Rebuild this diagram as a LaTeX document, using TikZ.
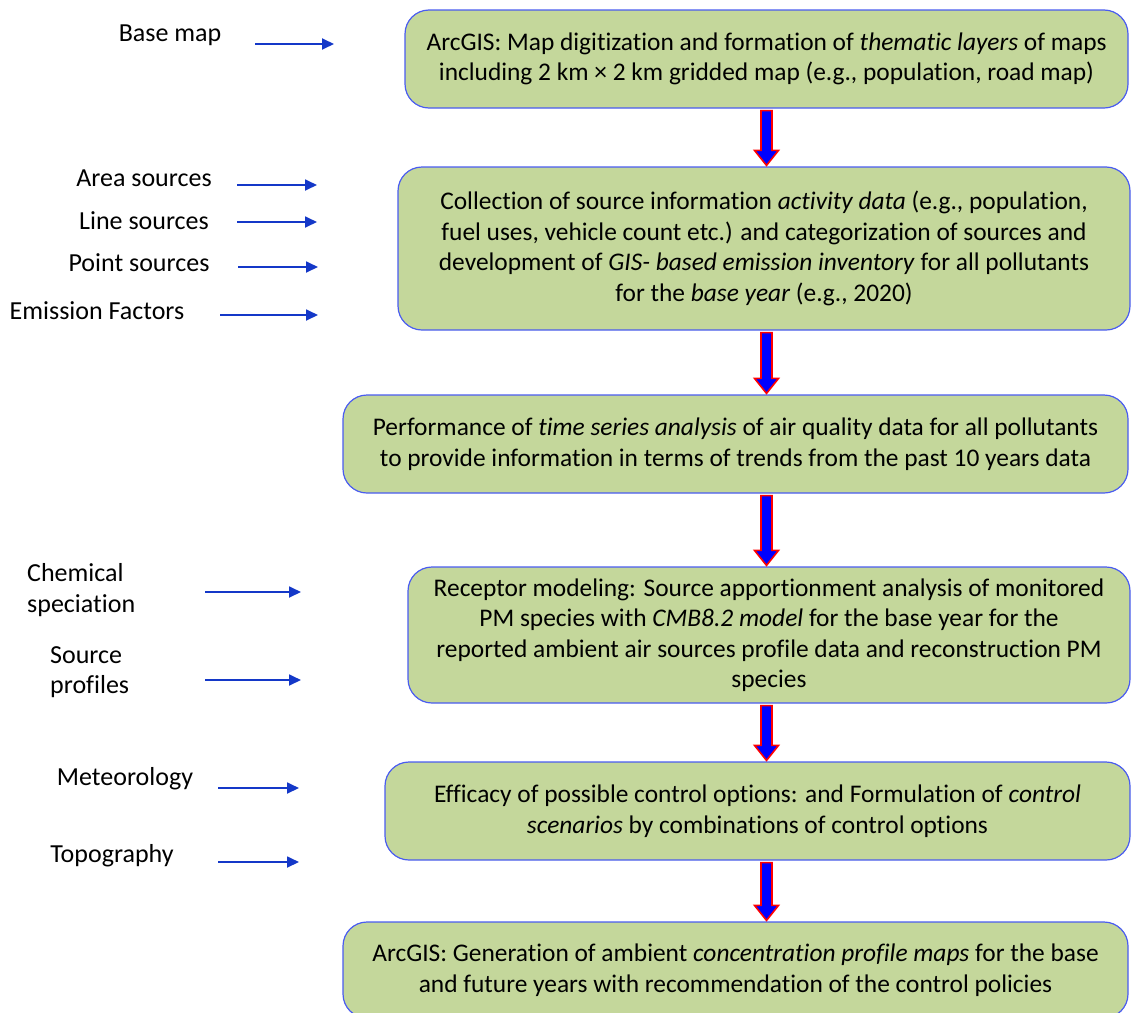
\documentclass[tikz,border=0pt]{standalone}
\usepackage{fontspec}
\setmainfont{Carlito}[Ligatures=NoCommon]
\usetikzlibrary{calc,arrows.meta}
\definecolor{boxgreen}{HTML}{C4D79B}
\definecolor{boxedge}{HTML}{4A5CF0}
\definecolor{feedblue}{HTML}{1438C8}
\tikzset{
	% ------- every something
	every node/.style={
		font=\fontsize{26}{30.5}\selectfont,
	},
	% ------- custom
	stage/.style={
		draw=boxedge, line width=1.2pt, fill=boxgreen,
		rounded corners=24pt, align=center, inner sep=0pt,
		font=\fontsize{25.4}{30.5}\selectfont,
	},
	feed/.style={
		feedblue, line width=1.8pt,
		-{Triangle[length=12pt,width=11pt]},
	},
	flow/.style={
		draw=red, fill=blue, line width=1.6pt, line join=miter,
	},
	source/.style={
		inner sep=0pt, align=center,
	},
}
% fat down arrow between two stages, on the axis of the first stage
\newcommand{\flowarrow}[2]{%
	\draw[flow] let \p1=(#1.south -| b1.south), \p2=(#2.north -| b1.south) in
		(\x1-5.5pt,\y1-2pt) -- (\x1+5.5pt,\y1-2pt) -- (\x1+5.5pt,\y2+16pt)
		-- (\x1+12pt,\y2+16pt) -- (\x1,\y2+1pt) -- (\x1-12pt,\y2+16pt)
		-- (\x1-5.5pt,\y2+16pt) -- cycle;
}

\begin{document}
\begin{tikzpicture}[x=1pt, y=-1pt]

% frame %{{{2

	\useasboundingbox (0,0) rectangle (1131,1012);

% stages %{{{2

	\node[stage, minimum width=723pt, minimum height=98pt] (b1) at (766.5,59)
	{ArcGIS: Map digitization and formation of \textit{thematic layers} of maps\\
	 including 2 km × 2 km gridded map (e.g., population, road map)};

	\node[stage, minimum width=732pt, minimum height=163pt] (b2) at (764,248.5)
	{Collection of source information \textit{activity data} (e.g., population,\\
	 fuel uses, vehicle count etc.) and categorization of sources and\\
	 development of \textit{GIS- based emission inventory} for all pollutants\\
	 for the \textit{base year} (e.g., 2020)};

	\node[stage, minimum width=785pt, minimum height=98pt] (b3) at (735.5,444)
	{Performance of \textit{time series analysis} of air quality data for all pollutants\\
	 to provide information in terms of trends from the past 10 years data};

	\node[stage, minimum width=722pt, minimum height=136pt] (b4) at (769,635)
	{Receptor modeling: Source apportionment analysis of monitored\\
	 PM species with \textit{CMB8.2 model} for the base year for the\\
	 reported ambient air sources profile data and reconstruction PM\\
	 species};

	\node[stage, minimum width=745pt, minimum height=98pt] (b5) at (757.5,811)
	{Efficacy of possible control options: and Formulation of \textit{control}\\
	 \textit{scenarios} by combinations of control options};

	\node[stage, minimum width=785pt, minimum height=96pt] (b6) at (735.5,970)
	{ArcGIS: Generation of ambient \textit{concentration profile maps} for the base\\
	 and future years with recommendation of the control policies};

% flow arrows %{{{2

	\flowarrow{b1}{b2}
	\flowarrow{b2}{b3}
	\flowarrow{b3}{b4}
	\flowarrow{b4}{b5}
	\flowarrow{b5}{b6}

% inputs %{{{2

	\node[source] (basemap) at (170,35) {Base map};
	\node[source] (area) at (144,178) {Area sources};
	\node[source] (line) at (144,221) {Line sources};
	\node[source] (point) at (139,263) {Point sources};
	\node[source] (factors) at (97,311) {Emission Factors};
	\node[source, align=left, anchor=west] (chem) at (27,590) {Chemical\\speciation};
	\node[source, align=left, anchor=west] (profiles) at (50,672) {Source\\profiles};
	\node[source] (meteo) at (125,779) {Meteorology};
	\node[source] (topo) at (112,856) {Topography};

% input arrows %{{{2

	\coordinate (basemap-s) at (255,44);   \coordinate (basemap-e) at (334,44);
	\coordinate (area-s) at (237,185);     \coordinate (area-e) at (317,185);
	\coordinate (line-s) at (237,222);     \coordinate (line-e) at (317,222);
	\coordinate (point-s) at (238,267);    \coordinate (point-e) at (318,267);
	\coordinate (factors-s) at (220,315);  \coordinate (factors-e) at (318,315);
	\coordinate (chem-s) at (205,592);     \coordinate (chem-e) at (301,592);
	\coordinate (profiles-s) at (205,680); \coordinate (profiles-e) at (301,680);
	\coordinate (meteo-s) at (218,788);    \coordinate (meteo-e) at (299,788);
	\coordinate (topo-s) at (218,862);     \coordinate (topo-e) at (299,862);

	\foreach \src in {basemap,area,line,point,factors,chem,profiles,meteo,topo}
		\draw[feed] (\src-s) -- (\src-e);

% closing %{{{2

\end{tikzpicture}
\end{document}
